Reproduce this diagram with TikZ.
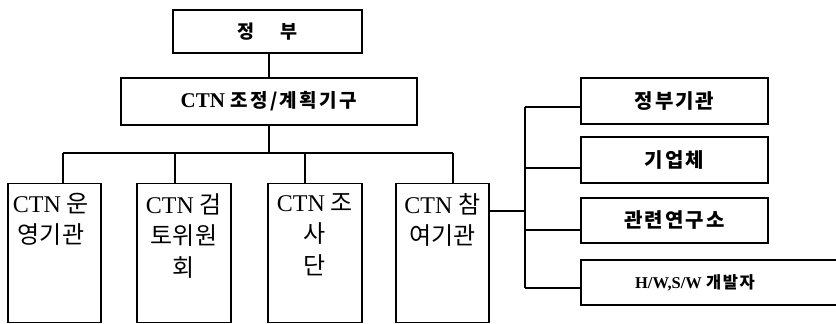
\documentclass[tikz,border=0pt]{standalone}
\usepackage{fontspec}
\setmainfont{Liberation Serif}
\newfontfamily\kr{Noto Sans CJK KR}
\newfontfamily\krw{Noto Sans CJK KR}[LetterSpace=13]
\newfontfamily\krv{Noto Sans CJK KR}[LetterSpace=10]
\begin{document}
\begin{tikzpicture}[x=1pt,y=-1pt,
  box/.style={draw,line width=1.6pt,rectangle,inner sep=0pt},
  conn/.style={line width=1.6pt},
  lowtxt/.style={anchor=north,align=center,font=\fontsize{24}{31.5}\selectfont,inner sep=0pt},
  rtxt/.style={font=\fontsize{20}{22}\selectfont\bfseries}
]
\useasboundingbox (0,0) rectangle (836,324);
\begin{scope}
\clip (0,0) rectangle (836,324);
% top
\node[box,minimum width=189pt,minimum height=43pt,font=\fontsize{18.5}{20}\selectfont\bfseries] (gov) at (267.5,31.5) {\kr 정\hspace{1.45em}부};
\node[box,minimum width=296pt,minimum height=47pt,font=\fontsize{21}{23}\selectfont\bfseries] (ctn) at (269,101.5) {CTN {\fontsize{19}{21}\selectfont\krw 조정/계획기구}\hspace{10pt}};
% lower boxes
\node[box,minimum width=93pt,minimum height=139pt] (b1) at (54.5,253) {};
\node[box,minimum width=94pt,minimum height=139pt] (b2) at (184,253) {};
\node[box,minimum width=94pt,minimum height=139pt] (b3) at (315,253) {};
\node[box,minimum width=93pt,minimum height=139pt] (b4) at (442.5,253) {};
\node[lowtxt] (t1) at (51,193) {CTN {\kr 운}\\{\kr 영기관}};
\node[lowtxt] (t2) at (184,193) {CTN {\kr 검}\\{\kr 토위원}\\{\kr 회}};
\node[lowtxt] (t3) at (315,193) {CTN {\kr 조}\\{\kr 사}\\{\kr 단}};
\node[lowtxt] (t4) at (442.5,193) {CTN {\kr 참}\\{\kr 여기관}};
% right boxes
\node[box,minimum width=187pt,minimum height=46pt,rtxt] (ra) at (674.5,101) {\krv 정부기관};
\node[box,minimum width=187pt,minimum height=46pt,rtxt] (rb) at (674.5,160) {\krv 기업체};
\node[box,minimum width=187pt,minimum height=45pt,rtxt] (rc) at (674.5,220.5) {\krv 관련연구소};
\node[box,minimum width=269pt,minimum height=45pt] (rd) at (715.5,282.5) {};
\node[font=\fontsize{16.5}{18}\selectfont\bfseries,anchor=center] (td) at (695,282.5) {H/W,S/W {\krv 개발자}};
% connectors
\draw[conn] (ctn.north |- gov.south) -- (ctn.north);
\coordinate (bus) at (269,153);
\coordinate (d1) at (63,153);
\coordinate (d2) at (175,153);
\coordinate (d3) at (305,153);
\coordinate (d4) at (453,153);
\draw[conn] (ctn.south) -- (bus);
\draw[conn] (d1) -- (d4);
\draw[conn] (d1) -- (d1 |- b1.north);
\draw[conn] (d2) -- (d2 |- b2.north);
\draw[conn] (d3) -- (d3 |- b3.north);
\draw[conn] (d4) -- (d4 |- b4.north);
\coordinate (j) at (525,211);
\coordinate (sa) at (525,107);
\coordinate (sb) at (525,168);
\coordinate (sc) at (525,230);
\coordinate (sd) at (525,288);
\draw[conn] (j -| b4.east) -- (j);
\draw[conn] (sa) -- (sd);
\draw[conn] (sa) -- (sa -| ra.west);
\draw[conn] (sb) -- (sb -| rb.west);
\draw[conn] (sc) -- (sc -| rc.west);
\draw[conn] (sd) -- (sd -| rd.west);
\end{scope}
\end{tikzpicture}
\end{document}
